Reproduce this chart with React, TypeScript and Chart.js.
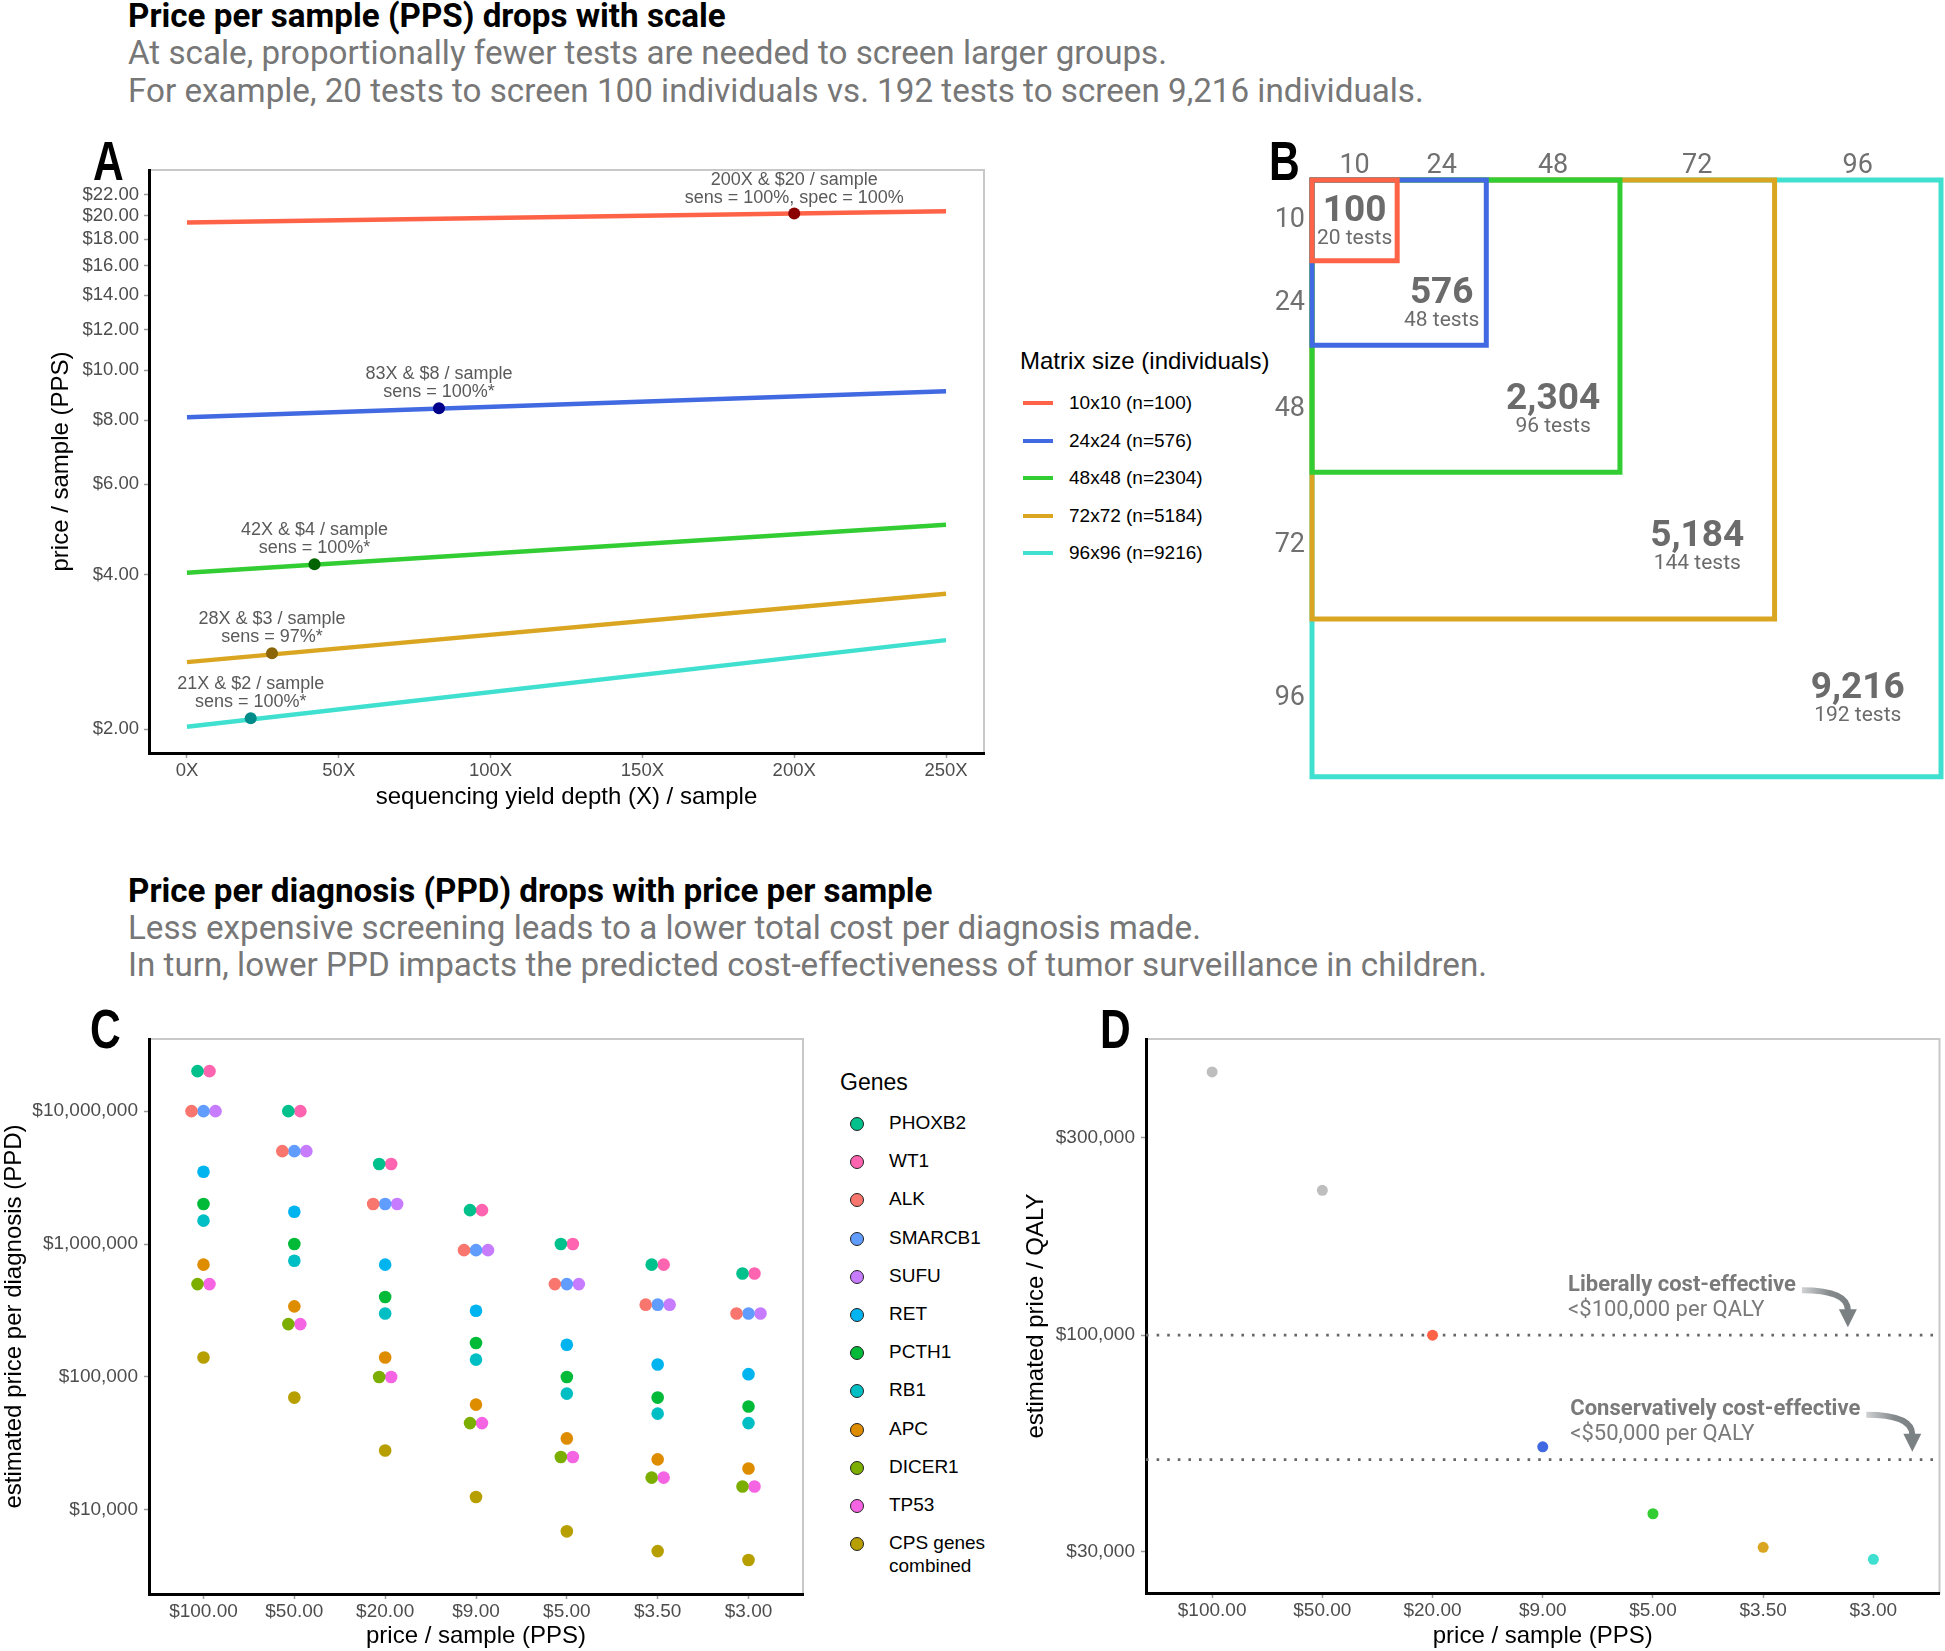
import React, { useEffect, useRef } from 'react';
import { Chart, registerables } from 'chart.js';

Chart.register(...registerables);

const SANS = "'Liberation Sans', Arial, Helvetica, sans-serif";
const ROBOTO = "Roboto, 'Noto Sans', sans-serif";
const TICK_GREY = '#4D4D4D';

// ================= Panel A data =================
const depthTicks = [0, 50, 100, 150, 200, 250];
const ppsTicks = [2, 4, 6, 8, 10, 12, 14, 16, 18, 20, 22];
const matrixLabels = ['10x10 (n=100)', '24x24 (n=576)', '48x48 (n=2304)', '72x72 (n=5184)', '96x96 (n=9216)'];
const matrixColors = ['#FF6347', '#4169E1', '#32CD32', '#DAA520', '#40E0D0'];
const optimumColors = ['#8B0000', '#00008B', '#006400', '#8B6508', '#008B8B'];
const lineDepths = [0, 250];
const pps10x10 = [19.4, 20.4];
const pps24x24 = [8.1, 9.1];
const pps48x48 = [4.03, 5.0];
const pps72x72 = [2.7, 3.67];
const pps96x96 = [2.02, 2.98];
const ppsLines = [pps10x10, pps24x24, pps48x48, pps72x72, pps96x96];
const optimumDepth = [200, 83, 42, 28, 21];
const optimumPPS = [20.2, 8.43, 4.19, 2.81, 2.1];
const optimumText1 = ['200X & $20 / sample', '83X & $8 / sample', '42X & $4 / sample', '28X & $3 / sample', '21X & $2 / sample'];
const optimumText2 = ['sens = 100%, spec = 100%', 'sens = 100%*', 'sens = 100%*', 'sens = 97%*', 'sens = 100%*'];

// ================= Panel B data =================
const matrixDims = [10, 24, 48, 72, 96];
const matrixN = [100, 576, 2304, 5184, 9216];
const testsNeeded = [20, 48, 96, 144, 192];
const boxExtent = [13, 26.6, 47, 70.6, 96];

// ================= Panel C data =================
const ppsCategories = ['$100.00', '$50.00', '$20.00', '$9.00', '$5.00', '$3.50', '$3.00'];
const geneNames = ['PHOXB2', 'WT1', 'ALK', 'SMARCB1', 'SUFU', 'RET', 'PCTH1', 'RB1', 'APC', 'DICER1', 'TP53', 'CPS genes combined'];
const geneColors = ['#00C08B', '#FF64B0', '#F8766D', '#619CFF', '#C77CFF', '#00B4F0', '#00BA38', '#00BFC4', '#DE8C00', '#7CAE00', '#F564E3', '#B79F00'];
const ppdPHOXB2 = [2.0e7, 1.0e7, 4.0e6, 1.8e6, 1.0e6, 7.0e5, 6.0e5];
const ppdWT1 = [2.0e7, 1.0e7, 4.0e6, 1.8e6, 1.0e6, 7.0e5, 6.0e5];
const ppdALK = [1.0e7, 5.0e6, 2.0e6, 9.0e5, 5.0e5, 3.5e5, 3.0e5];
const ppdSMARCB1 = [1.0e7, 5.0e6, 2.0e6, 9.0e5, 5.0e5, 3.5e5, 3.0e5];
const ppdSUFU = [1.0e7, 5.0e6, 2.0e6, 9.0e5, 5.0e5, 3.5e5, 3.0e5];
const ppdRET = [3.5e6, 1.75e6, 7.0e5, 3.15e5, 1.75e5, 1.24e5, 1.05e5];
const ppdPCTH1 = [2.0e6, 1.0e6, 4.0e5, 1.8e5, 1.0e5, 7.0e4, 6.0e4];
const ppdRB1 = [1.5e6, 7.5e5, 3.0e5, 1.35e5, 7.5e4, 5.3e4, 4.5e4];
const ppdAPC = [7.0e5, 3.4e5, 1.4e5, 6.2e4, 3.45e4, 2.4e4, 2.05e4];
const ppdDICER1 = [5.0e5, 2.5e5, 1.0e5, 4.5e4, 2.5e4, 1.75e4, 1.5e4];
const ppdTP53 = [5.0e5, 2.5e5, 1.0e5, 4.5e4, 2.5e4, 1.75e4, 1.5e4];
const ppdCPS = [1.4e5, 7.0e4, 2.8e4, 1.25e4, 6.9e3, 4.9e3, 4.2e3];
const ppdByGene = [ppdPHOXB2, ppdWT1, ppdALK, ppdSMARCB1, ppdSUFU, ppdRET, ppdPCTH1, ppdRB1, ppdAPC, ppdDICER1, ppdTP53, ppdCPS];
const ppdTicks = [1e4, 1e5, 1e6, 1e7];

// ================= Panel D data =================
const qalyPrice = [4.33e5, 2.24e5, 1.0e5, 5.37e4, 3.7e4, 3.07e4, 2.87e4];
const qalyColors = ['#BEBEBE', '#BEBEBE', '#FF6347', '#4169E1', '#32CD32', '#DAA520', '#40E0D0'];
const qalyTicks = [30000, 100000, 300000];
const qalyThresholds = [100000, 50000];
const thresholdTitles = ['Liberally cost-effective', 'Conservatively cost-effective'];
const thresholdNotes = ['<$100,000 per QALY', '<$50,000 per QALY'];
const thresholdNoteX = [4.23, 4.25];

// ================= helpers =================
const catMin = 0.4;
const catMax = ppsCategories.length + 0.6;
const money = (v: number) => '$' + Number(v).toLocaleString('en-US');

const framePlugin = {
  id: 'frame',
  beforeDraw(chart: any, _a: any, opts: any) {
    if (!opts || !opts.color) return;
    const { ctx, chartArea: a } = chart;
    ctx.save();
    ctx.strokeStyle = opts.color;
    ctx.lineWidth = opts.width || 1.5;
    ctx.strokeRect(a.left, a.top, a.right - a.left, a.bottom - a.top);
    ctx.restore();
  },
};

const tickFont = (size: number) => ({ family: SANS, size });
const axisTitle = (text: string, padding: any) => ({
  display: true,
  text,
  color: '#000',
  font: { family: SANS, size: 24 },
  padding,
});
const tickGrid = { display: true, drawOnChartArea: false, drawTicks: true, tickLength: 5, tickColor: '#9a9a9a', tickWidth: 1.5 };
const blackBorder = { display: true, color: '#000', width: 3 };

const baseOptions = (padding: any) => ({
  responsive: false,
  maintainAspectRatio: false,
  animation: false,
  devicePixelRatio: 1,
  events: [],
  layout: { padding },
});

// ================= Panel A =================
function buildA() {
  const lines = ppsLines.map((vals, i) => ({
    label: matrixLabels[i],
    data: lineDepths.map((d, k) => ({ x: d, y: vals[k] })),
    showLine: true,
    borderColor: matrixColors[i],
    backgroundColor: matrixColors[i],
    borderWidth: 4.5,
    pointRadius: 0,
    order: 2,
  }));
  const points = {
    label: 'optimum',
    data: optimumDepth.map((d, i) => ({ x: d, y: optimumPPS[i] })),
    backgroundColor: optimumColors,
    pointRadius: 6,
    pointBorderWidth: 0,
    order: 0,
  };
  const labelPlugin = {
    id: 'optLabels',
    afterDatasetsDraw(chart: any) {
      const { ctx, scales } = chart;
      ctx.save();
      ctx.font = `18px ${SANS}`;
      ctx.fillStyle = '#5a5a5a';
      ctx.textAlign = 'center';
      ctx.textBaseline = 'middle';
      optimumDepth.forEach((d, i) => {
        const px = scales.x.getPixelForValue(d);
        const py = scales.y.getPixelForValue(optimumPPS[i]);
        ctx.fillText(optimumText1[i], px, py - 34);
        ctx.fillText(optimumText2[i], px, py - 16);
      });
      ctx.restore();
    },
  };
  return {
    type: 'scatter',
    data: { datasets: [...lines, points] },
    plugins: [framePlugin, labelPlugin],
    options: {
      ...baseOptions({ top: 40, right: 16, bottom: 0, left: 0 }),
      plugins: { legend: { display: false }, tooltip: { enabled: false }, frame: { color: '#c8c8c8', width: 2 } },
      scales: {
        x: {
          type: 'linear',
          min: -12.5,
          max: 262.5,
          afterBuildTicks: (s: any) => { s.ticks = depthTicks.map((v) => ({ value: v })); },
          afterFit: (s: any) => { s.height = 77; },
          ticks: { callback: (v: any) => `${v}X`, font: tickFont(18.5), color: TICK_GREY, padding: 2, maxRotation: 0, autoSkip: false },
          grid: tickGrid,
          border: blackBorder,
          title: axisTitle('sequencing yield depth (X) / sample', { top: 0, bottom: 18 }),
        },
        y: {
          type: 'logarithmic',
          min: 1.796,
          max: 24.56,
          afterBuildTicks: (s: any) => { s.ticks = ppsTicks.map((v) => ({ value: v })); },
          afterFit: (s: any) => { s.width = 149; },
          ticks: { callback: (v: any) => '$' + Number(v).toFixed(2), font: tickFont(18.5), color: TICK_GREY, padding: 5, autoSkip: false },
          grid: tickGrid,
          border: blackBorder,
          title: axisTitle('price / sample (PPS)', { top: 47, bottom: 0 }),
        },
      },
    },
  };
}

// ================= Panel B =================
function buildB() {
  const mids = boxExtent.map((e, i) => ((i ? boxExtent[i - 1] : 0) + e) / 2);
  const boxes = boxExtent.map((e, i) => ({
    label: matrixLabels[i],
    data: [
      { x: 0, y: 0 },
      { x: e, y: 0 },
      { x: e, y: e },
      { x: 0, y: e },
      { x: 0, y: 0 },
    ],
    showLine: true,
    borderColor: matrixColors[i],
    borderWidth: 5,
    borderJoinStyle: 'miter',
    borderCapStyle: 'square',
    pointRadius: 0,
    clip: false,
  }));
  const labelPlugin = {
    id: 'boxLabels',
    afterDatasetsDraw(chart: any) {
      const { ctx, scales } = chart;
      ctx.save();
      ctx.fillStyle = '#6b6b6b';
      ctx.textAlign = 'center';
      ctx.textBaseline = 'middle';
      mids.forEach((m, i) => {
        const px = scales.x.getPixelForValue(m);
        const py = scales.y.getPixelForValue(m);
        ctx.font = `bold 37px ${ROBOTO}`;
        ctx.fillText(matrixN[i].toLocaleString('en-US'), px, py - 9);
        ctx.font = `21px ${ROBOTO}`;
        ctx.fillText(`${testsNeeded[i]} tests`, px, py + 18);
      });
      ctx.restore();
    },
  };
  const tickCfg = { callback: (_v: any, idx: number) => String(matrixDims[idx]), font: { family: ROBOTO, size: 27 }, color: '#707070', autoSkip: false, maxRotation: 0 };
  const noGrid = { display: false, drawTicks: false, tickLength: 0 };
  return {
    type: 'scatter',
    data: { datasets: boxes },
    plugins: [labelPlugin],
    options: {
      ...baseOptions({ top: 0, right: 4, bottom: 17, left: 0 }),
      plugins: { legend: { display: false }, tooltip: { enabled: false } },
      scales: {
        x: {
          type: 'linear',
          position: 'top',
          min: 0,
          max: 96,
          afterBuildTicks: (s: any) => { s.ticks = mids.map((v) => ({ value: v })); },
          afterFit: (s: any) => { s.height = 60; },
          ticks: { ...tickCfg, padding: -2 },
          grid: noGrid,
          border: { display: false },
        },
        y: {
          type: 'linear',
          reverse: true,
          min: 0,
          max: 96,
          afterBuildTicks: (s: any) => { s.ticks = mids.map((v) => ({ value: v })); },
          afterFit: (s: any) => { s.width = 42; },
          ticks: { ...tickCfg, padding: 7 },
          grid: noGrid,
          border: { display: false },
        },
      },
    },
  };
}

// ================= Panel C =================
function buildC() {
  const dodgeStep = 0.132;
  const datasets = ppdByGene.map((vals, g) => ({
    label: geneNames[g],
    data: vals.map((v, c) => {
      const tied = ppdByGene.map((arr, k) => (arr[c] === v ? k : -1)).filter((k) => k >= 0);
      const j = tied.indexOf(g);
      const off = (j - (tied.length - 1) / 2) * dodgeStep;
      return { x: c + 1 + off, y: v };
    }),
    backgroundColor: geneColors[g],
    pointRadius: 6.3,
    pointBorderWidth: 0,
  }));
  return {
    type: 'scatter',
    data: { datasets },
    plugins: [framePlugin],
    options: {
      ...baseOptions({ top: 39, right: 17, bottom: 0, left: 0 }),
      plugins: { legend: { display: false }, tooltip: { enabled: false }, frame: { color: '#c8c8c8', width: 2 } },
      scales: {
        x: {
          type: 'linear',
          min: catMin,
          max: catMax,
          afterBuildTicks: (s: any) => { s.ticks = ppsCategories.map((_c, i) => ({ value: i + 1 })); },
          afterFit: (s: any) => { s.height = 57; },
          ticks: { callback: (_v: any, i: number) => ppsCategories[i], font: tickFont(19), color: TICK_GREY, padding: 1, maxRotation: 0, autoSkip: false },
          grid: tickGrid,
          border: blackBorder,
          title: axisTitle('price / sample (PPS)', { top: 0, bottom: 0 }),
        },
        y: {
          type: 'logarithmic',
          min: 2330,
          max: 3.49e7,
          afterBuildTicks: (s: any) => { s.ticks = ppdTicks.map((v) => ({ value: v })); },
          afterFit: (s: any) => { s.width = 149; },
          ticks: { callback: (v: any) => money(v), font: tickFont(19), color: TICK_GREY, padding: 6, autoSkip: false },
          grid: tickGrid,
          border: blackBorder,
          title: axisTitle('estimated price per diagnosis (PPD)', { top: 0, bottom: 0 }),
        },
      },
    },
  };
}

// ================= Panel D =================
function buildD() {
  const refLines = qalyThresholds.map((t) => ({
    label: `threshold ${t}`,
    data: [
      { x: catMin, y: t },
      { x: catMax, y: t },
    ],
    showLine: true,
    borderColor: '#666',
    borderWidth: 2.6,
    borderDash: [2.6, 8],
    pointRadius: 0,
    order: 2,
  }));
  const points = {
    label: 'price per QALY',
    data: qalyPrice.map((v, i) => ({ x: i + 1, y: v })),
    backgroundColor: qalyColors,
    pointRadius: 5.5,
    pointBorderWidth: 0,
    order: 0,
  };
  const notePlugin = {
    id: 'notes',
    afterDatasetsDraw(chart: any) {
      const { ctx, scales } = chart;
      ctx.save();
      qalyThresholds.forEach((t, i) => {
        const ty = scales.y.getPixelForValue(t);
        const lx = scales.x.getPixelForValue(thresholdNoteX[i]);
        ctx.textAlign = 'left';
        ctx.textBaseline = 'middle';
        ctx.fillStyle = '#7a7a7a';
        ctx.font = `bold 22px ${ROBOTO}`;
        ctx.fillText(thresholdTitles[i], lx, ty - 50);
        const w = ctx.measureText(thresholdTitles[i]).width;
        ctx.font = `22px ${ROBOTO}`;
        ctx.fillText(thresholdNotes[i], lx, ty - 25);
        // curved arrow
        const x0 = lx + w + 6;
        const y0 = ty - 45;
        const x1 = x0 + 46;
        const y1 = ty - 8;
        const head = 18;
        const grad = ctx.createLinearGradient(x0, 0, x1, 0);
        grad.addColorStop(0, '#d0d2d3');
        grad.addColorStop(0.6, '#858a8d');
        grad.addColorStop(1, '#7b8083');
        ctx.strokeStyle = grad;
        ctx.lineWidth = 6;
        ctx.lineCap = 'butt';
        ctx.beginPath();
        ctx.moveTo(x0, y0);
        ctx.quadraticCurveTo(x1, y0, x1, y1 - head + 1);
        ctx.stroke();
        ctx.fillStyle = '#7b8083';
        ctx.beginPath();
        ctx.moveTo(x1 - 9, y1 - head);
        ctx.lineTo(x1 + 9, y1 - head);
        ctx.lineTo(x1, y1);
        ctx.closePath();
        ctx.fill();
      });
      ctx.restore();
    },
  };
  return {
    type: 'scatter',
    data: { datasets: [...refLines, points] },
    plugins: [framePlugin, notePlugin],
    options: {
      ...baseOptions({ top: 39, right: 3, bottom: 0, left: 0 }),
      plugins: { legend: { display: false }, tooltip: { enabled: false }, frame: { color: '#c8c8c8', width: 2 } },
      scales: {
        x: {
          type: 'linear',
          min: catMin,
          max: catMax,
          afterBuildTicks: (s: any) => { s.ticks = ppsCategories.map((_c, i) => ({ value: i + 1 })); },
          afterFit: (s: any) => { s.height = 58; },
          ticks: { callback: (_v: any, i: number) => ppsCategories[i], font: tickFont(19), color: TICK_GREY, padding: 1, maxRotation: 0, autoSkip: false },
          grid: tickGrid,
          border: blackBorder,
          title: axisTitle('price / sample (PPS)', { top: 0, bottom: 0 }),
        },
        y: {
          type: 'logarithmic',
          min: 23800,
          max: 520000,
          afterBuildTicks: (s: any) => { s.ticks = qalyTicks.map((v) => ({ value: v })); },
          afterFit: (s: any) => { s.width = 146; },
          ticks: { callback: (v: any) => money(v), font: tickFont(19), color: TICK_GREY, padding: 6, autoSkip: false },
          grid: tickGrid,
          border: blackBorder,
          title: axisTitle('estimated price / QALY', { top: 22, bottom: 0 }),
        },
      },
    },
  };
}

// ================= components =================
type Rect = { x: number; y: number; w: number; h: number };

function ChartCanvas({ rect, build }: { rect: Rect; build: () => any }) {
  const ref = useRef<HTMLCanvasElement>(null);
  useEffect(() => {
    const chart = new Chart(ref.current as HTMLCanvasElement, build());
    return () => chart.destroy();
  }, []);
  return (
    <canvas
      ref={ref}
      width={rect.w}
      height={rect.h}
      style={{ position: 'absolute', left: rect.x, top: rect.y, width: rect.w, height: rect.h, display: 'block' }}
    />
  );
}

function Line({ x, baseline, size, bold, color, family, children, k }: any) {
  return (
    <div
      style={{
        position: 'absolute',
        left: x,
        top: baseline - k * size,
        fontFamily: family,
        fontSize: size,
        fontWeight: bold ? 700 : 400,
        lineHeight: `${size}px`,
        color,
        whiteSpace: 'nowrap',
      }}
    >
      {children}
    </div>
  );
}

function PanelLetter({ x, baseline, children }: any) {
  return (
    <div
      style={{
        position: 'absolute',
        left: x,
        top: baseline - 0.8465 * 56,
        fontFamily: SANS,
        fontWeight: 700,
        fontSize: 56,
        lineHeight: '56px',
        color: '#000',
        transform: 'scaleX(0.76)',
        transformOrigin: 'left top',
      }}
    >
      {children}
    </div>
  );
}

const rectA: Rect = { x: 0, y: 130, w: 1000, h: 700 };
const rectB: Rect = { x: 1270, y: 120, w: 675, h: 680 };
const rectC: Rect = { x: 0, y: 1000, w: 820, h: 651 };
const rectD: Rect = { x: 1000, y: 1000, w: 945, h: 651 };

export default function App() {
  const RK = 0.842;
  const TS = 33.2;
  const SS = 33.2;
  return (
    <div style={{ position: 'absolute', left: 0, top: 0, width: 1945, height: 1651, overflow: 'hidden', background: '#fff' }}>
      <Line x={128} baseline={27} size={TS} bold color="#000" family={ROBOTO} k={RK}>Price per sample (PPS) drops with scale</Line>
      <Line x={128} baseline={64} size={SS} color="#777" family={ROBOTO} k={RK}>At scale, proportionally fewer tests are needed to screen larger groups.</Line>
      <Line x={128} baseline={101.5} size={SS} color="#777" family={ROBOTO} k={RK}>For example, 20 tests to screen 100 individuals vs. 192 tests to screen 9,216 individuals.</Line>

      <Line x={128} baseline={902} size={TS} bold color="#000" family={ROBOTO} k={RK}>Price per diagnosis (PPD) drops with price per sample</Line>
      <Line x={128} baseline={939} size={SS} color="#777" family={ROBOTO} k={RK}>Less expensive screening leads to a lower total cost per diagnosis made.</Line>
      <Line x={128} baseline={976} size={SS} color="#777" family={ROBOTO} k={RK}>In turn, lower PPD impacts the predicted cost-effectiveness of tumor surveillance in children.</Line>

      <ChartCanvas rect={rectA} build={buildA} />
      <ChartCanvas rect={rectB} build={buildB} />
      <ChartCanvas rect={rectC} build={buildC} />
      <ChartCanvas rect={rectD} build={buildD} />

      <PanelLetter x={93} baseline={180}>A</PanelLetter>
      <PanelLetter x={1269} baseline={180}>B</PanelLetter>
      <PanelLetter x={90} baseline={1048}>C</PanelLetter>
      <PanelLetter x={1100} baseline={1048}>D</PanelLetter>

      {/* Legend for matrix sizes */}
      <div style={{ position: 'absolute', left: 1020, top: 361 - 14, fontFamily: SANS, fontSize: 24, lineHeight: '28px', color: '#000', whiteSpace: 'nowrap' }}>
        Matrix size (individuals)
      </div>
      {matrixLabels.map((lab, i) => (
        <React.Fragment key={lab}>
          <div style={{ position: 'absolute', left: 1023, top: 403 + i * 37.6 - 2, width: 30, height: 4, background: matrixColors[i] }} />
          <div style={{ position: 'absolute', left: 1069, top: 403 + i * 37.6 - 12, fontFamily: SANS, fontSize: 19, lineHeight: '24px', color: '#000', whiteSpace: 'nowrap' }}>
            {lab}
          </div>
        </React.Fragment>
      ))}

      {/* Legend for genes */}
      <div style={{ position: 'absolute', left: 840, top: 1082 - 14, fontFamily: SANS, fontSize: 23, lineHeight: '28px', color: '#000' }}>Genes</div>
      {geneNames.map((g, i) => {
        const cy = 1124 + i * 38.2;
        const parts = g === 'CPS genes combined' ? ['CPS genes', 'combined'] : [g];
        return (
          <React.Fragment key={g}>
            <div
              style={{
                position: 'absolute',
                left: 857 - 7,
                top: cy - 7,
                width: 14,
                height: 14,
                borderRadius: '50%',
                background: geneColors[i],
                boxSizing: 'border-box',
                border: '1.3px solid #222',
              }}
            />
            <div style={{ position: 'absolute', left: 889, top: cy - 12, fontFamily: SANS, fontSize: 19, lineHeight: '22.5px', color: '#000', whiteSpace: 'nowrap' }}>
              {parts.map((p, k) => (
                <div key={k}>{p}</div>
              ))}
            </div>
          </React.Fragment>
        );
      })}
    </div>
  );
}
